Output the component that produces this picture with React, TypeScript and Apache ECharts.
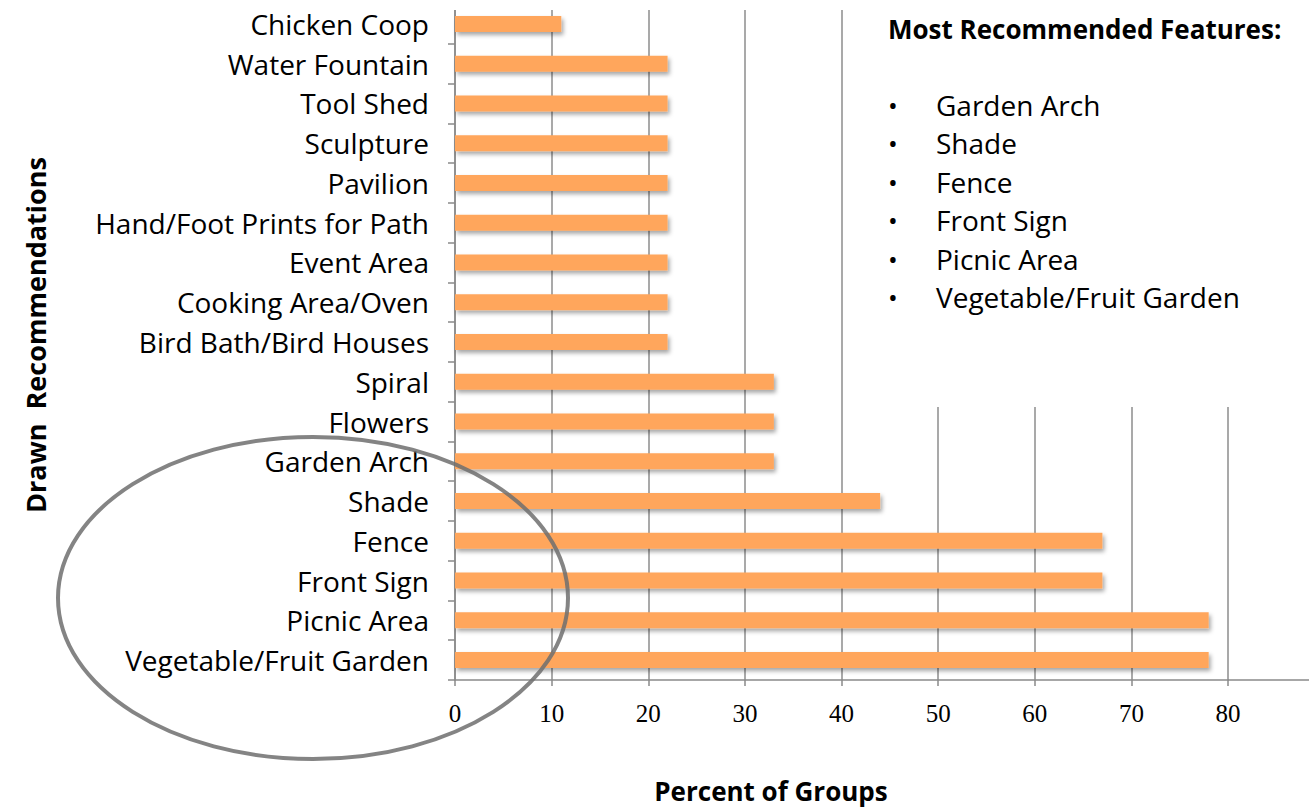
import React, { useEffect, useRef } from "react";
import * as echarts from "echarts";

const categories = [
  "Chicken Coop",
  "Water Fountain",
  "Tool Shed",
  "Sculpture",
  "Pavilion",
  "Hand/Foot Prints for Path",
  "Event Area",
  "Cooking Area/Oven",
  "Bird Bath/Bird Houses",
  "Spiral",
  "Flowers",
  "Garden Arch",
  "Shade",
  "Fence",
  "Front Sign",
  "Picnic Area",
  "Vegetable/Fruit Garden",
];
const percentOfGroups = [11, 22, 22, 22, 22, 22, 22, 22, 22, 33, 33, 33, 44, 67, 67, 78, 78];
const xTicks = { min: 0, max: 80, interval: 10 };
const boxTitle = "Most Recommended Features:";
const boxItems = ["Garden Arch", "Shade", "Fence", "Front Sign", "Picnic Area", "Vegetable/Fruit Garden"];
const xTitle = "Percent of Groups";
const yTitle = "Drawn  Recommendations";

const SANS = "'Open Sans', 'Noto Sans', sans-serif";

export default function App() {
  const ref = useRef<HTMLDivElement>(null);
  useEffect(() => {
    if (!ref.current) return;
    const chart = echarts.init(ref.current, undefined, { renderer: "svg" });
    const gridLeft = 455;
    const gridRight = 1228;
    const gridTop = 4;
    const gridBottom = 680;
    const axisColor = "#8a8a8a";
    const graphics: any[] = [
      { type: "rect", shape: { x: 845, y: 0, width: 464, height: 407 }, style: { fill: "#fff" }, z: 50 },
      { type: "rect", shape: { x: 440, y: 0, width: 869, height: 10 }, style: { fill: "#fff" }, z: 50 },
      { type: "line", shape: { x1: gridRight, y1: gridBottom, x2: 1309, y2: gridBottom }, style: { stroke: axisColor, lineWidth: 1.5 }, z: 50 },
      {
        type: "text", x: 888, y: 29, z: 60,
        style: { text: boxTitle, font: `bold 26px ${SANS}`, fill: "#000", verticalAlign: "middle" },
      },
      {
        type: "text", x: 771, y: 791, z: 60,
        style: { text: xTitle, font: `bold 26px ${SANS}`, fill: "#000", align: "center", verticalAlign: "middle" },
      },
      {
        type: "text", x: 35, y: 335, rotation: Math.PI / 2, z: 60,
        style: { text: yTitle, font: `bold 27px ${SANS}`, fill: "#000", align: "center", verticalAlign: "middle" },
      },
      {
        type: "ellipse", z: 70,
        shape: { cx: 313, cy: 598, rx: 255, ry: 161 },
        style: { fill: "none", stroke: "rgba(110,110,110,0.85)", lineWidth: 4 },
      },
    ];
    boxItems.forEach((t, i) => {
      const y = 105 + i * 38.4;
      graphics.push({
        type: "text", x: 893, y, z: 60,
        style: { text: "•", font: `26px ${SANS}`, fill: "#000", align: "center", verticalAlign: "middle" },
      });
      graphics.push({
        type: "text", x: 936, y, z: 60,
        style: { text: t, font: `28px ${SANS}`, fill: "#000", verticalAlign: "middle" },
      });
    });
    chart.setOption({
      animation: false,
      backgroundColor: "#fff",
      grid: { left: gridLeft, right: 1309 - gridRight, top: gridTop, bottom: 810 - gridBottom, containLabel: false },
      xAxis: {
        type: "value",
        min: xTicks.min,
        max: xTicks.max,
        interval: xTicks.interval,
        axisLine: { show: true, lineStyle: { color: axisColor, width: 1.5 } },
        axisTick: { show: true, length: 6, lineStyle: { color: axisColor, width: 1.5 } },
        splitLine: { show: true, lineStyle: { color: "#8c8c8c", width: 1.5 } },
        axisLabel: { color: "#000", fontFamily: "'Liberation Serif', serif", fontSize: 25, margin: 21 },
      },
      yAxis: {
        type: "category",
        data: categories,
        inverse: true,
        axisLine: { show: true, lineStyle: { color: axisColor, width: 1.5 } },
        axisTick: { show: true, length: 7, lineStyle: { color: axisColor, width: 1.5 } },
        axisLabel: { color: "#000", fontFamily: SANS, fontSize: 28, margin: 26, padding: [4, 0, 0, 0] },
      },
      series: [
        {
          type: "bar",
          data: percentOfGroups,
          barWidth: 16,
          itemStyle: {
            color: "#FFA65B",
            shadowColor: "rgba(0,0,0,0.35)",
            shadowBlur: 4,
            shadowOffsetX: 2,
            shadowOffsetY: 3,
          },
        },
      ],
      graphic: graphics,
    });
    return () => chart.dispose();
  }, []);
  return <div ref={ref} style={{ position: "fixed", left: 0, top: 0, width: 1309, height: 810 }} />;
}
